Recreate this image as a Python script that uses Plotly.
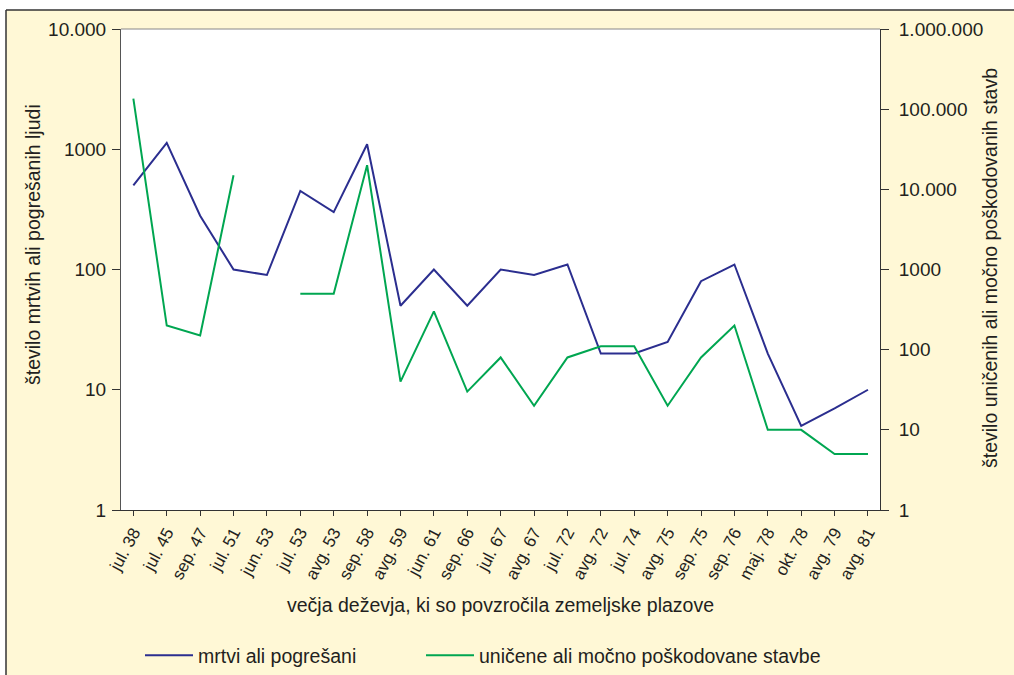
import plotly.graph_objects as go

# Major rainfall events that triggered landslides
events = ["jul. 38", "jul. 45", "sep. 47", "jul. 51", "jun. 53", "jul. 53", "avg. 53",
          "sep. 58", "avg. 59", "jun. 61", "sep. 66", "jul. 67", "avg. 67", "jul. 72",
          "avg. 72", "jul. 74", "avg. 75", "sep. 75", "sep. 76", "maj. 78", "okt. 78",
          "avg. 79", "avg. 81"]

# Dead or missing people (left axis)
dead_missing = [500, 1130, 280, 100, 90, 450, 300, 1100, 50, 100, 50, 100, 90, 110,
                20, 20, 25, 80, 110, 20, 5, 7, 10]

# Destroyed or heavily damaged buildings (right axis); None = no data
buildings = [135000, 200, 150, 15000, None, 500, 500, 20000, 40, 300, 30, 80, 20, 80,
             110, 110, 20, 80, 200, 10, 10, 5, 5]

left_tickvals = [1, 10, 100, 1000, 10000]
left_ticktext = ["1", "10", "100", "1000", "10.000"]
right_tickvals = [1, 10, 100, 1000, 10000, 100000, 1000000]
right_ticktext = ["1", "10", "100", "1000", "10.000", "100.000", "1.000.000"]

BLUE = "#2B2E8F"
GREEN = "#00A651"
CREAM = "#FFF8D6"
INK = "#231F20"
FONT = "Liberation Sans, Arial, sans-serif"
TITLE_SIZE = 19.5

W, H = 1014, 675
ML, MR, MT, MB = 121, 134, 29, 165
PW, PH = W - ML - MR, H - MT - MB


def px_x(x):
    return (x - ML) / PW


def px_y(y):
    return (H - MB - y) / PH


fig = go.Figure()
fig.add_trace(go.Scatter(
    x=list(range(len(events))), y=dead_missing, mode="lines",
    line=dict(color=BLUE, width=2), name="mrtvi ali pogrešani", yaxis="y",
    legend="legend"))
fig.add_trace(go.Scatter(
    x=list(range(len(events))), y=buildings, mode="lines",
    line=dict(color=GREEN, width=2), name="uničene ali močno poškodovane stavbe",
    yaxis="y2", connectgaps=False, legend="legend2"))

legend_style = dict(orientation="h", xanchor="left", yanchor="top",
                    bgcolor="rgba(0,0,0,0)", font=dict(size=TITLE_SIZE, color=INK),
                    itemwidth=48)

fig.update_layout(
    width=W, height=H,
    margin=dict(l=ML, r=MR, t=MT, b=MB, autoexpand=False),
    paper_bgcolor=CREAM, plot_bgcolor="white",
    font=dict(family=FONT, color=INK),
    showlegend=True,
    legend=dict(x=px_x(140), y=px_y(636), **legend_style),
    legend2=dict(x=px_x(421), y=px_y(636), **legend_style),
    xaxis=dict(
        tickmode="array", tickvals=list(range(len(events))), ticktext=events,
        range=[-0.37, len(events) - 1 + 0.36], tickangle=-62, automargin=False,
        tickfont=dict(size=17, color=INK), ticks="outside", ticklen=5, tickcolor="#333",
        showline=True, linecolor="#333", linewidth=1, showgrid=False, zeroline=False),
    yaxis=dict(
        type="log", range=[0, 4], tickmode="array", tickvals=left_tickvals,
        ticktext=left_ticktext, tickfont=dict(size=19, color=INK), automargin=False,
        ticks="outside", ticklen=8, tickcolor="#333", ticklabelstandoff=2,
        showline=True, linecolor="#555", linewidth=1, showgrid=False, zeroline=False),
    yaxis2=dict(
        type="log", range=[0, 6], overlaying="y", side="right", tickmode="array",
        tickvals=right_tickvals, ticktext=right_ticktext, automargin=False,
        tickfont=dict(size=19, color=INK), ticks="outside", ticklen=8, tickcolor="#333",
        ticklabelstandoff=6,
        showline=True, linecolor="#333", linewidth=1, showgrid=False, zeroline=False),
)

# axis titles
title_font = dict(size=TITLE_SIZE, color=INK)
fig.add_annotation(text="število mrtvih ali pogrešanih ljudi", xref="paper", yref="paper",
                   x=px_x(33), y=px_y(245), xanchor="center", yanchor="middle",
                   textangle=-90, showarrow=False, font=title_font)
fig.add_annotation(text="število uničenih ali močno poškodovanih stavb", xref="paper",
                   yref="paper", x=px_x(990), y=px_y(268), xanchor="center",
                   yanchor="middle", textangle=-90, showarrow=False, font=title_font)
fig.add_annotation(text="večja deževja, ki so povzročila zemeljske plazove", xref="paper",
                   yref="paper", x=px_x(500), y=px_y(605), xanchor="center",
                   yanchor="middle", showarrow=False, font=title_font)

# white margin strips around the framed panel, frame edges and plot-area top line
fig.add_shape(type="rect", xref="paper", yref="paper", x0=px_x(-5), x1=px_x(W + 5),
              y0=px_y(10), y1=px_y(-5), fillcolor="white", line=dict(width=0), layer="below")
fig.add_shape(type="rect", xref="paper", yref="paper", x0=px_x(-5), x1=px_x(6),
              y0=px_y(H + 5), y1=px_y(-5), fillcolor="white", line=dict(width=0), layer="below")
fig.add_shape(type="line", xref="paper", yref="paper", x0=px_x(6), x1=px_x(W + 5),
              y0=px_y(10), y1=px_y(10), line=dict(color="#333", width=1.5))
fig.add_shape(type="line", xref="paper", yref="paper", x0=px_x(6), x1=px_x(6),
              y0=px_y(10), y1=px_y(H + 5), line=dict(color="#333", width=1.5))
fig.add_shape(type="line", xref="paper", yref="paper", x0=0, x1=1, y0=1, y1=1,
              line=dict(color="#888", width=1))

fig.write_html("out.html")
